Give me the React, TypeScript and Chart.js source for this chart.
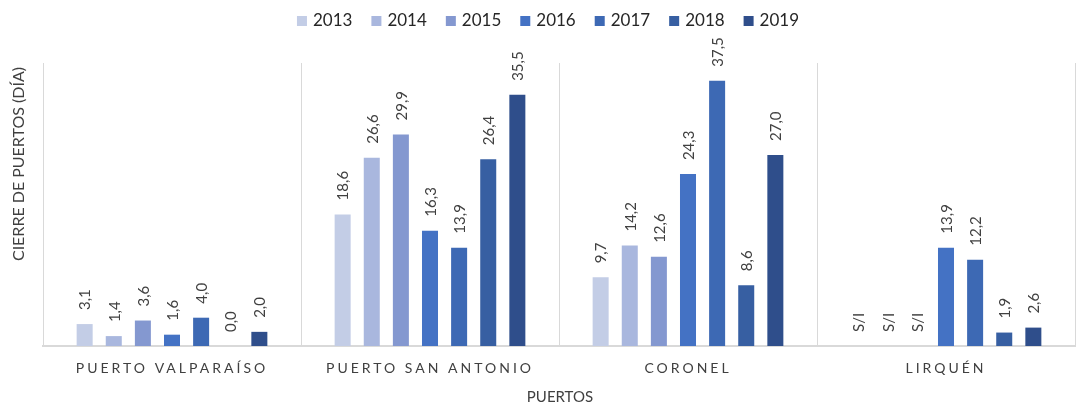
import React, { useEffect, useRef } from "react";
import { Chart, registerables } from "chart.js";

Chart.register(...registerables);

const categories = ["PUERTO VALPARAÍSO", "PUERTO SAN ANTONIO", "CORONEL", "LIRQUÉN"];
const years = ["2013", "2014", "2015", "2016", "2017", "2018", "2019"];
const v2013: (number | null)[] = [3.1, 18.6, 9.7, null];
const v2014: (number | null)[] = [1.4, 26.6, 14.2, null];
const v2015: (number | null)[] = [3.6, 29.9, 12.6, null];
const v2016: (number | null)[] = [1.6, 16.3, 24.3, 13.9];
const v2017: (number | null)[] = [4.0, 13.9, 37.5, 12.2];
const v2018: (number | null)[] = [0.0, 26.4, 8.6, 1.9];
const v2019: (number | null)[] = [2.0, 35.5, 27.0, 2.6];
const seriesValues = [v2013, v2014, v2015, v2016, v2017, v2018, v2019];
const colors = ["#C3CDE6", "#A9B7DE", "#8498D0", "#4472C4", "#3D69B4", "#375FA2", "#2F4E8B"];
const yTitle = "CIERRE DE PUERTOS (DÍA)";
const xTitle = "PUERTOS";
const missingLabel = "S/I";

const FONT = "Lato, 'Open Sans', sans-serif";

const customPlugin = {
  id: "custom",
  afterDatasetsDraw(chart: any) {
    const ctx = chart.ctx;
    ctx.save();
    // legend
    ctx.font = `17px ${FONT}`;
    ctx.textBaseline = "middle";
    ctx.textAlign = "left";
    const box = 10;
    const gap = 6;
    const spacing = 19;
    const widths = years.map((y) => box + gap + ctx.measureText(y).width);
    const total = widths.reduce((a, b) => a + b, 0) + spacing * (years.length - 1);
    let lx = 548 - total / 2;
    years.forEach((y, i) => {
      ctx.fillStyle = colors[i];
      ctx.fillRect(lx, 16, box, box);
      ctx.fillStyle = "#262626";
      ctx.fillText(y, lx + box + gap, 21);
      lx += widths[i] + spacing;
    });

    ctx.fillStyle = "#404040";
    ctx.font = `15px ${FONT}`;
    ctx.textAlign = "left";
    ctx.textBaseline = "middle";
    const yScale = chart.scales.y;
    chart.data.datasets.forEach((ds: any, di: number) => {
      const meta = chart.getDatasetMeta(di);
      meta.data.forEach((bar: any, i: number) => {
        const v = ds.data[i];
        const text = v === null ? missingLabel : v.toFixed(1).replace(".", ",");
        const top = v === null ? yScale.getPixelForValue(0) : bar.y;
        ctx.save();
        ctx.translate(bar.x, top - 14);
        ctx.rotate(-Math.PI / 2);
        ctx.fillText(text, 0, 1);
        ctx.restore();
      });
    });
    // x category labels with letter spacing
    const xScale = chart.scales.x;
    ctx.font = `14px ${FONT}`;
    (ctx as any).letterSpacing = "3px";
    ctx.textAlign = "center";
    ctx.textBaseline = "middle";
    categories.forEach((c, i) => {
      const x = xScale.getPixelForValue(i);
      ctx.fillText(c, x, 368);
    });
    (ctx as any).letterSpacing = "0px";
    // x title
    ctx.font = `15px ${FONT}`;
    ctx.fillText(xTitle, (chart.chartArea.left + chart.chartArea.right) / 2 + 1, 397);
    // y title
    ctx.save();
    ctx.translate(19, 164);
    ctx.rotate(-Math.PI / 2);
    ctx.font = `16px ${FONT}`;
    ctx.fillText(yTitle, 0, 0);
    ctx.restore();
    ctx.restore();
  },
};

export default function App() {
  const ref = useRef<HTMLCanvasElement>(null);
  useEffect(() => {
    document.body.style.margin = "0";
    const chart = new Chart(ref.current as HTMLCanvasElement, {
      type: "bar",
      data: {
        labels: categories,
        datasets: years.map((y, i) => ({
          label: y,
          data: seriesValues[i] as any,
          backgroundColor: colors[i],
          borderWidth: 0,
          categoryPercentage: 0.79,
          barPercentage: 0.55,
        })),
      },
      options: {
        animation: false,
        responsive: false,
        maintainAspectRatio: false,
        layout: { padding: { left: 0, right: 1, top: 63, bottom: 0 } },
        plugins: {
          legend: { display: false },
          tooltip: { enabled: false },
        },
        scales: {
          x: {
            offset: true,
            grid: {
              display: true,
              offset: true,
              color: "#D9D9D9",
              lineWidth: 1,
              drawTicks: false,
            },
            border: { display: true, color: "#D9D9D9", width: 2 },
            ticks: { display: false },
            afterFit: (s: any) => {
              s.height = 60;
            },
          },
          y: {
            min: 0,
            max: 40,
            display: true,
            grid: { display: false },
            border: { display: false },
            ticks: { display: false },
            afterFit: (s: any) => {
              s.width = 43;
            },
          },
        },
      },
      plugins: [customPlugin],
    });
    return () => chart.destroy();
  }, []);
  return <canvas ref={ref} width={1076} height={406} style={{ display: "block" }} />;
}
